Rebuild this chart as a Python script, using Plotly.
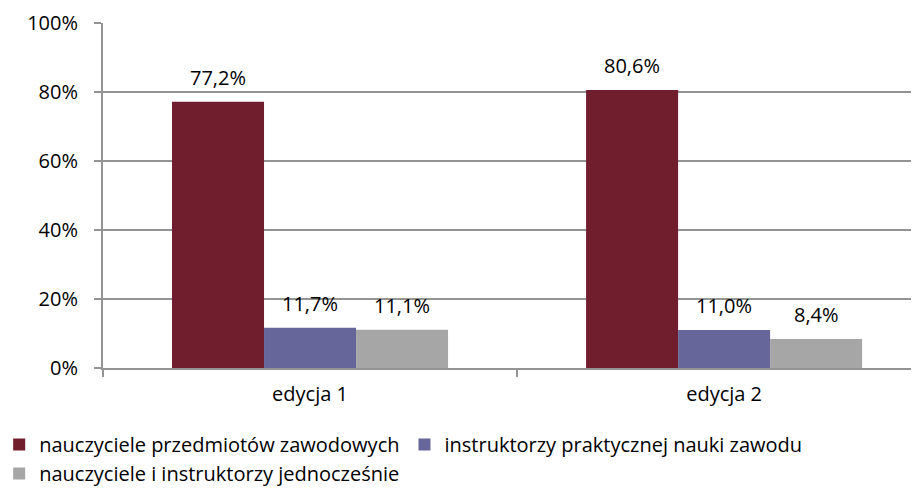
import plotly.graph_objects as go

# data
editions = ["edycja 1", "edycja 2"]
series_names = [
    "nauczyciele przedmiotów zawodowych",
    "instruktorzy praktycznej nauki zawodu",
    "nauczyciele i instruktorzy jednocześnie",
]
nauczyciele = [0.772, 0.806]
instruktorzy = [0.117, 0.110]
jednoczesnie = [0.111, 0.084]

colors = ["#701e2e", "#66669a", "#a6a6a6"]
font_family = "Open Sans"
grid_color = "#949494"

fig = go.Figure()

all_values = [nauczyciele, instruktorzy, jednoczesnie]
for name, values, color in zip(series_names, all_values, colors):
    fig.add_trace(
        go.Bar(
            x=editions,
            y=values,
            name=name,
            marker=dict(color=color, line=dict(width=0)),
        )
    )

# value labels above the bars (Excel puts them a bit higher than plotly's "outside")
bar_px = 92
for i, values in enumerate(all_values):
    for ed, v in zip(editions, values):
        fig.add_annotation(
            x=ed,
            y=v,
            text=f"{v * 100:.1f}%".replace(".", ","),
            showarrow=False,
            xshift=(i - 1) * bar_px,
            yshift=9,
            yanchor="bottom",
            font=dict(size=20, color="#000000", family=font_family),
        )

# the page body has an 8px margin, so margins are trimmed to compensate
fig.update_layout(
    width=919,
    height=488,
    margin=dict(l=95, r=0, t=15, b=128, autoexpand=False),
    plot_bgcolor="white",
    paper_bgcolor="white",
    barmode="group",
    bargap=1 / 3,
    bargroupgap=0,
    separators=", ",
    font=dict(family=font_family, size=20, color="#000000"),
    legend=dict(
        orientation="h",
        x=-0.126,
        xanchor="left",
        y=-0.165,
        yanchor="top",
        font=dict(size=20),
        itemclick=False,
        tracegroupgap=0,
    ),
)

fig.update_xaxes(
    type="category",
    range=[-0.5, 1.49],
    showline=True,
    linecolor=grid_color,
    linewidth=2,
    ticks="outside",
    tickson="boundaries",
    ticklen=7,
    tickcolor=grid_color,
    tickwidth=2,
    ticklabelstandoff=7,
    showgrid=False,
)

fig.update_yaxes(
    range=[0, 1],
    dtick=0.2,
    tickformat=".0%",
    showgrid=True,
    gridcolor=grid_color,
    gridwidth=2,
    showline=True,
    linecolor=grid_color,
    linewidth=2,
    ticks="outside",
    ticklen=7,
    tickcolor=grid_color,
    tickwidth=2,
    ticklabelstandoff=12,
    zeroline=False,
)

fig.write_html("out.html")
